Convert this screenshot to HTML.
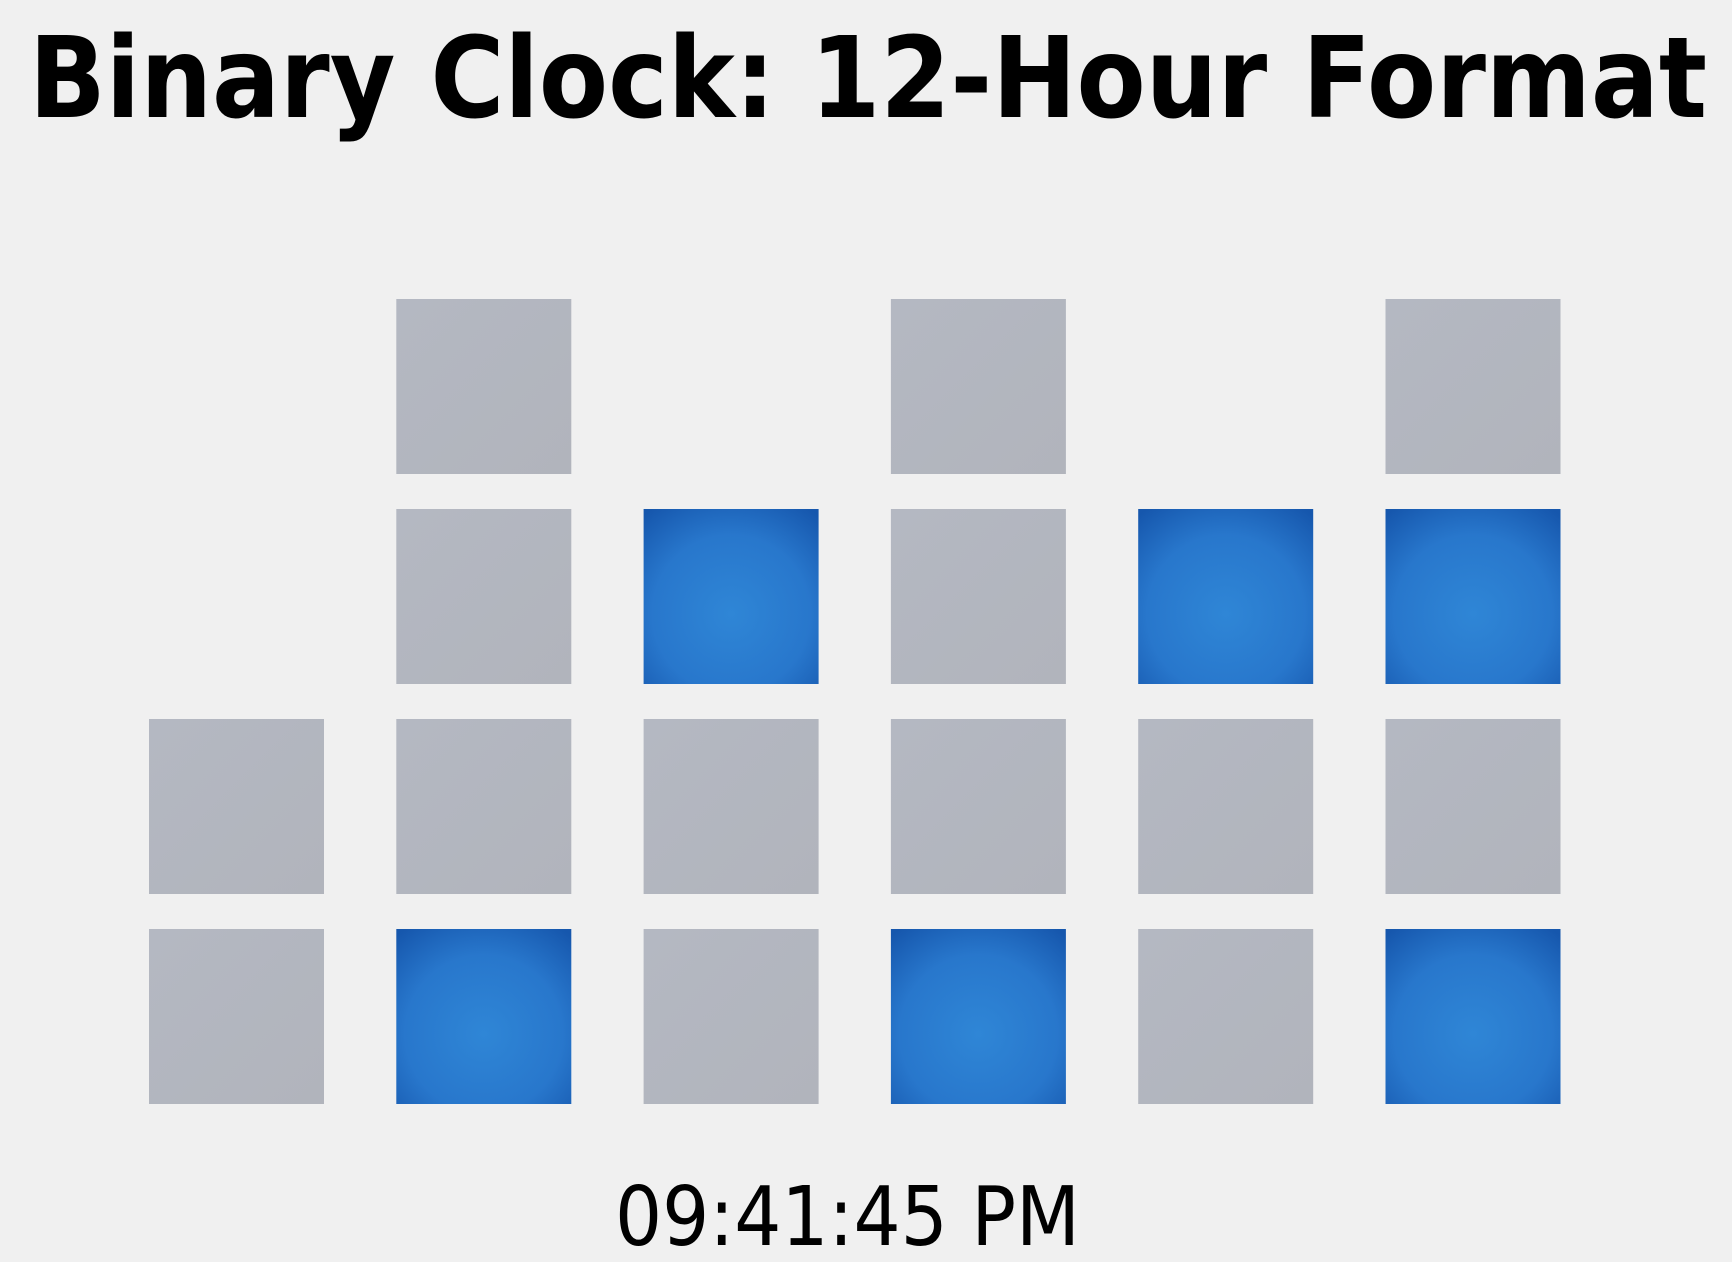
<!DOCTYPE html>
<html><head><meta charset="utf-8"><style>
html,body{margin:0;padding:0;background:#f0f0f0;}
svg{display:block;}
</style></head><body>
<svg id="chart" width="1732" height="1262" viewBox="0 0 1732 1262" xmlns="http://www.w3.org/2000/svg">
<defs>
<radialGradient id="blueGrad" cx="0.5" cy="0.6" r="0.75">
<stop offset="0" stop-color="#2f86d6"/>
<stop offset="0.6" stop-color="#2877cc"/>
<stop offset="1" stop-color="#1657ad"/>
</radialGradient>
<linearGradient id="grayGrad" x1="0" y1="0" x2="1" y2="1">
<stop offset="0" stop-color="#b4b8c2"/>
<stop offset="1" stop-color="#b1b4bc"/>
</linearGradient>
</defs>
<text x="29" y="117" font-family="DejaVu Sans, Liberation Sans, sans-serif" font-weight="bold" font-size="112" textLength="1678" lengthAdjust="spacingAndGlyphs" fill="#000">Binary Clock: 12-Hour Format</text>
<g id="cells"></g>
<text x="615" y="1245" font-family="DejaVu Sans, Liberation Sans, sans-serif" font-size="82" textLength="465" lengthAdjust="spacingAndGlyphs" fill="#000">09:41:45 PM</text>
</svg>
<script>
// digit columns: H tens, H ones, M tens, M ones, S tens, S ones
const columns = ["hour-tens","hour-ones","minute-tens","minute-ones","second-tens","second-ones"];
const bitCounts = [2,4,3,4,3,4];
const digitValues = [0,1,4,1,4,5];

const colX = i => 149 + i * 247.3;
const rowY = r => 299 + r * 210; // r = 0 (bit 8) .. 3 (bit 1)
const size = 175;
const g = document.getElementById('cells');
const ns = 'http://www.w3.org/2000/svg';
columns.forEach((name, c) => {
  for (let b = 0; b < bitCounts[c]; b++) {
    const r = 3 - b;
    const on = (digitValues[c] >> b) & 1;
    const rect = document.createElementNS(ns, 'rect');
    rect.setAttribute('x', colX(c));
    rect.setAttribute('y', rowY(r));
    rect.setAttribute('width', size);
    rect.setAttribute('height', size);
    rect.setAttribute('fill', on ? 'url(#blueGrad)' : 'url(#grayGrad)');
    
    
    g.appendChild(rect);
  }
});
</script>
</body></html>
